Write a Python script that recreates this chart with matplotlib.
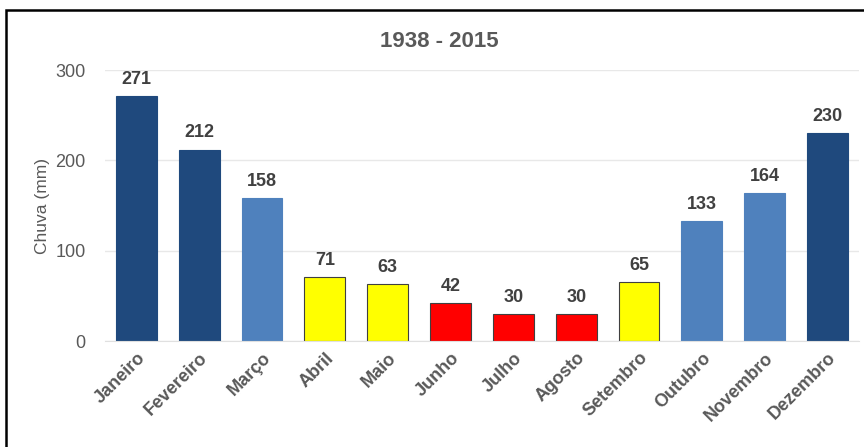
import matplotlib.pyplot as plt
from matplotlib.patches import Rectangle

months = ["Janeiro", "Fevereiro", "Março", "Abril", "Maio", "Junho",
          "Julho", "Agosto", "Setembro", "Outubro", "Novembro", "Dezembro"]
rain_mm = [271, 212, 158, 71, 63, 42, 30, 30, 65, 133, 164, 230]
bar_colors = ["#1F497D", "#1F497D", "#4F81BD", "#FFFF00", "#FFFF00", "#FF0000",
              "#FF0000", "#FF0000", "#FFFF00", "#4F81BD", "#4F81BD", "#1F497D"]
yticks = [0, 100, 200, 300]

plt.rcParams['font.family'] = ['Liberation Sans', 'DejaVu Sans']
txt = "#595959"

fig = plt.figure(figsize=(8.64, 4.47), dpi=100)
ax = fig.add_axes([0.1215, 0.237, 0.8727, 0.606])

# dark outline only on the yellow and red bars
edges = ["#404040" if c in ("#FFFF00", "#FF0000") else c for c in bar_colors]
x = list(range(len(months)))
bars = ax.bar(x, rain_mm, width=0.65, color=bar_colors, edgecolor=edges,
              linewidth=0.8, zorder=2)
for b, v in zip(bars, rain_mm):
    ax.annotate(str(v), (b.get_x() + b.get_width() / 2, v), xytext=(0, 6),
                textcoords="offset points", ha="center", va="bottom",
                fontsize=13, fontweight="bold", color="#404040")

ax.set_xlim(-0.5, len(months) - 0.5)
ax.set_ylim(0, 300)
ax.set_yticks(yticks)
ax.yaxis.grid(True, color="#E8E8E8", lw=1, zorder=0)
ax.set_xticks(x)
ax.set_xticklabels(months, rotation=45, ha="right", rotation_mode="anchor",
                   fontsize=13, fontweight="bold", color=txt)
ax.tick_params(axis="y", labelsize=13, colors=txt, length=0, pad=14)
ax.tick_params(axis="x", length=0, pad=6)
for s in ["top", "right", "left"]:
    ax.spines[s].set_visible(False)
ax.spines["bottom"].set_color("#E0E0E0")
ax.set_ylabel("Chuva (mm)", fontsize=12.5, color=txt, labelpad=4)

fig.text(0.5085, 0.908, "1938 - 2015", ha="center", va="center",
         fontsize=16, fontweight="bold", color=txt)

# frame around the chart
fig.patches.append(Rectangle((6 / 864, -0.01), 1.0, (447 - 10) / 447 + 0.01,
                             transform=fig.transFigure, fill=False,
                             edgecolor="black", lw=1.8))

fig.savefig("out.png", dpi=100)
